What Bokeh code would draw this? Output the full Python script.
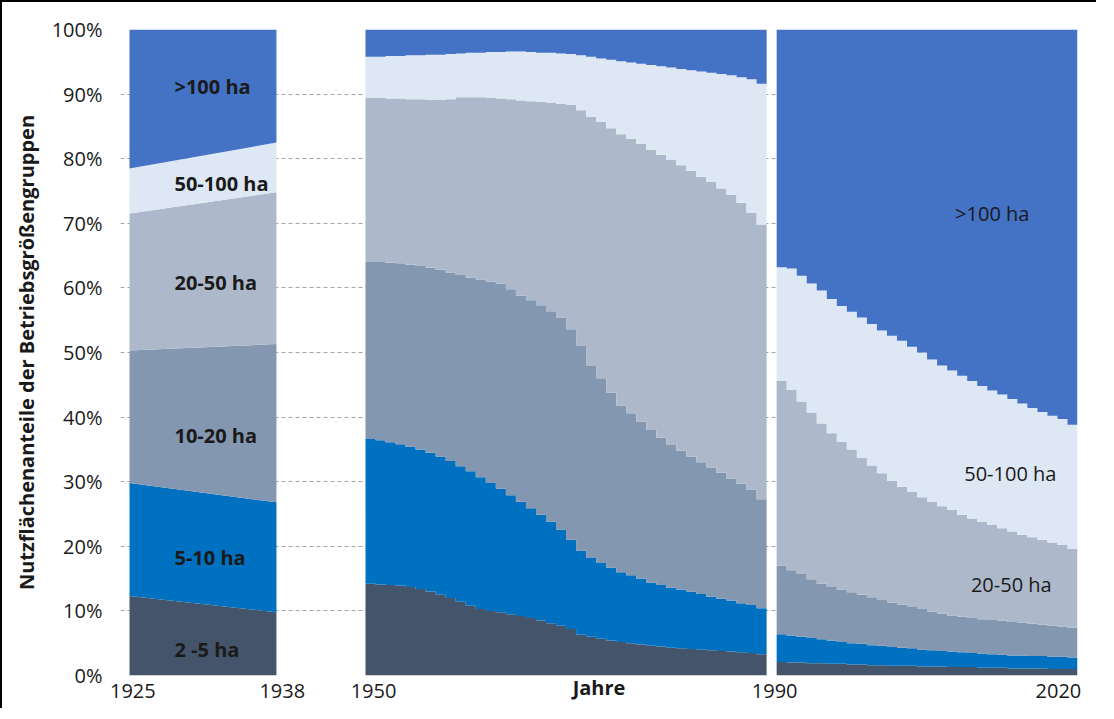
import numpy as np
from bokeh.plotting import figure
from bokeh.models import ColumnDataSource, Range1d, FixedTicker, PrintfTickFormatter
from bokeh.core.properties import value
from bokeh.embed import file_html
from bokeh.resources import INLINE

# ---------------- data (shares in % of agricultural area) ----------------
CLASSES = ["2 -5 ha", "5-10 ha", "10-20 ha", "20-50 ha", "50-100 ha", ">100 ha"]
COLORS = ["#44546A", "#0070C0", "#8497B0", "#ADB9CA", "#DEE7F4", "#4472C4"]

# period 1: 1925 and 1938
years_1 = [1925, 1938]
p1_s2_5 = [12.3, 9.8]
p1_s5_10 = [17.5, 17.0]
p1_s10_20 = [20.5, 24.5]
p1_s20_50 = [21.2, 23.5]
p1_s50_100 = [7.0, 7.7]
p1_s100 = [21.5, 17.5]

# period 2: 1950-1989 (yearly)
years_2 = list(range(1950, 1990))
p2_s2_5 = [14.2, 14.1, 14.0, 13.9, 13.7, 13.4, 13.0, 12.5, 12.0, 11.4,
           10.8, 10.3, 10.0, 9.8, 9.5, 9.2, 8.9, 8.5, 8.1, 7.7,
           7.2, 6.3, 6.0, 5.7, 5.4, 5.2, 5.0, 4.8, 4.6, 4.5,
           4.3, 4.2, 4.1, 4.0, 3.9, 3.8, 3.7, 3.6, 3.5, 3.3]
p2_s5_10 = [22.4, 22.3, 22.1, 21.9, 21.7, 21.6, 21.5, 21.4, 21.2, 21.0,
            20.8, 20.4, 19.8, 19.1, 18.4, 17.7, 17.0, 16.4, 15.7, 14.9,
            13.8, 13.0, 12.2, 11.7, 11.3, 10.8, 10.5, 10.2, 9.8, 9.5,
            9.3, 9.1, 8.9, 8.6, 8.3, 8.1, 7.9, 7.6, 7.4, 7.1]
p2_s10_20 = [27.4, 27.6, 27.8, 28.0, 28.2, 28.4, 28.6, 28.9, 29.2, 29.6,
             30.0, 30.6, 31.2, 31.8, 31.9, 31.9, 32.2, 32.4, 32.6, 32.8,
             32.6, 31.7, 29.7, 28.6, 27.1, 25.8, 25.1, 24.3, 23.6, 22.8,
             22.1, 21.5, 20.9, 20.4, 20.0, 19.5, 18.9, 18.5, 17.9, 16.9]
p2_s20_50 = [25.4, 25.4, 25.4, 25.5, 25.6, 25.8, 26.0, 26.3, 26.8, 27.5,
             27.9, 28.2, 28.4, 28.6, 29.4, 30.2, 30.8, 31.5, 32.3, 33.1,
             34.7, 36.5, 38.6, 39.7, 40.9, 42.0, 42.5, 43.0, 43.4, 43.8,
             44.1, 44.2, 44.2, 44.2, 44.2, 44.0, 43.9, 43.5, 42.8, 42.5]
p2_s50_100 = [6.4, 6.4, 6.6, 6.6, 6.8, 6.8, 7.0, 7.0, 7.0, 6.8,
              6.9, 6.9, 7.1, 7.2, 7.4, 7.6, 7.6, 7.6, 7.7, 7.8,
              7.9, 8.5, 9.3, 9.8, 10.6, 11.3, 11.8, 12.4, 13.1, 13.7,
              14.3, 14.9, 15.6, 16.3, 16.9, 17.7, 18.5, 19.4, 20.7, 21.8]
p2_s100 = [4.2, 4.2, 4.1, 4.1, 4.0, 4.0, 3.9, 3.9, 3.8, 3.7,
           3.6, 3.6, 3.5, 3.5, 3.4, 3.4, 3.5, 3.6, 3.6, 3.7,
           3.8, 4.0, 4.2, 4.5, 4.7, 4.9, 5.1, 5.3, 5.5, 5.7,
           5.9, 6.1, 6.3, 6.5, 6.7, 6.9, 7.1, 7.4, 7.7, 8.4]

# period 3: 1991-2020 (yearly)
years_3 = list(range(1991, 2021))
p3_s2_5 = [2.1, 2.0, 2.0, 1.9, 1.9, 1.8, 1.8, 1.7, 1.7, 1.6,
           1.6, 1.5, 1.5, 1.5, 1.4, 1.4, 1.4, 1.3, 1.3, 1.3,
           1.2, 1.2, 1.2, 1.1, 1.1, 1.1, 1.1, 1.0, 1.0, 1.0]
p3_s5_10 = [4.3, 4.2, 4.0, 3.9, 3.7, 3.6, 3.4, 3.3, 3.2, 3.1,
            3.0, 2.9, 2.8, 2.7, 2.6, 2.5, 2.4, 2.4, 2.3, 2.2,
            2.2, 2.1, 2.0, 2.0, 2.0, 1.9, 1.9, 1.9, 1.9, 1.8]
p3_s10_20 = [10.6, 10.1, 9.7, 9.1, 8.6, 8.3, 8.1, 7.9, 7.6, 7.4,
             7.1, 6.9, 6.7, 6.4, 6.3, 6.0, 5.8, 5.6, 5.5, 5.4,
             5.3, 5.3, 5.3, 5.2, 5.1, 5.0, 4.9, 4.8, 4.7, 4.6]
p3_s20_50 = [28.6, 27.9, 26.7, 25.8, 24.8, 23.8, 22.9, 22.1, 21.2, 20.4,
             19.6, 18.8, 18.2, 17.8, 17.3, 17.0, 16.6, 16.3, 15.8, 15.4,
             15.1, 14.7, 14.3, 14.0, 13.6, 13.4, 13.1, 12.9, 12.6, 12.2]
p3_s50_100 = [17.6, 18.8, 19.5, 20.0, 20.6, 20.8, 21.0, 21.3, 21.7, 21.9,
              22.1, 22.5, 22.6, 22.5, 22.4, 22.0, 21.8, 21.6, 21.5, 21.3,
              21.0, 20.8, 20.7, 20.5, 20.3, 20.0, 19.8, 19.6, 19.5, 19.2]
p3_s100 = [36.8, 37.0, 38.1, 39.3, 40.4, 41.7, 42.8, 43.7, 44.6, 45.6,
           46.6, 47.4, 48.2, 49.1, 50.0, 51.1, 52.0, 52.8, 53.6, 54.4,
           55.2, 55.9, 56.5, 57.2, 57.9, 58.6, 59.2, 59.8, 60.3, 61.2]

TICK_LABELS = ["1925", "1938", "1950", "1990", "2020"]
Y_TICKS = list(range(0, 101, 10))
Y_TITLE = "Nutzflächenanteile der Betriebsgrößengruppen"
X_TITLE = "Jahre"
LABELS_LEFT = ["2 -5 ha", "5-10 ha", "10-20 ha", "20-50 ha", "50-100 ha", ">100 ha"]
LABELS_RIGHT = ["20-50 ha", "50-100 ha", ">100 ha"]

# ---------------- layout constants ----------------
X_START, X_END = 1925.07, 2020.5
P1_X0, P1_X1 = 1925.97, 1940.62          # compressed drawing span of 1925..1938
TICK_POS = [1926.3, 1941.2, 1950.3, 1990.3, 2018.6]
LEFT_LABEL_X = 1930.45
LEFT_LABEL_Y = [4.0, 18.3, 37.2, 60.8, 76.2, 91.2]
RIGHT_LABEL_X = [2013.9, 2013.8, 2012.0]
RIGHT_LABEL_Y = [14.1, 31.3, 71.5]
FONT = "Open Sans"
TXT = "#1a1a1a"

p = figure(width=1096, height=708, output_backend="svg", toolbar_location=None,
           x_range=Range1d(X_START, X_END), y_range=Range1d(0, 100),
           min_border_left=118, min_border_right=21, min_border_top=27, min_border_bottom=35)
p.styles = {"border-top": "2px solid black", "border-left": "2px solid black"}
p.outline_line_color = None
p.background_fill_color = "white"


def stack_bounds(series):
    arr = np.array(series, dtype=float)
    tops = np.cumsum(arr, axis=0)
    bottoms = tops - arr
    return bottoms, tops


# period 1 as continuous area between the two survey years
def p1x(y):
    return P1_X0 + (y - years_1[0]) * (P1_X1 - P1_X0) / (years_1[-1] - years_1[0])


b1, t1 = stack_bounds([p1_s2_5, p1_s5_10, p1_s10_20, p1_s20_50, p1_s50_100, p1_s100])
x1 = [p1x(y) for y in years_1]
for k, c in enumerate(COLORS):
    p.varea(x=x1, y1=b1[k], y2=t1[k], fill_color=c)

# yearly periods as step areas (one step per year)
for years, series in ((years_2, [p2_s2_5, p2_s5_10, p2_s10_20, p2_s20_50, p2_s50_100, p2_s100]),
                      (years_3, [p3_s2_5, p3_s5_10, p3_s10_20, p3_s20_50, p3_s50_100, p3_s100])):
    b, t = stack_bounds(series)
    edges = [y - 0.5 for y in years] + [years[-1] + 0.5]
    for k, c in enumerate(COLORS):
        src = ColumnDataSource(dict(x=edges, y1=list(b[k]) + [b[k][-1]], y2=list(t[k]) + [t[k][-1]]))
        p.varea_step(x="x", y1="y1", y2="y2", step_mode="after", fill_color=c, source=src)

# labels
p.text(x=[LEFT_LABEL_X] * len(LABELS_LEFT), y=LEFT_LABEL_Y, text=LABELS_LEFT,
       text_font=value(FONT), text_font_style="bold", text_font_size="20px",
       text_color=TXT, text_align="left", text_baseline="middle")
p.text(x=RIGHT_LABEL_X, y=RIGHT_LABEL_Y, text=LABELS_RIGHT,
       text_font=value(FONT), text_font_size="20px",
       text_color=TXT, text_align="center", text_baseline="middle")

# grid
p.xgrid.grid_line_color = None
p.ygrid.ticker = FixedTicker(ticks=Y_TICKS)
p.ygrid.grid_line_color = "#A6A6A6"
p.ygrid.grid_line_dash = "4 3"
p.ygrid.grid_line_width = 1

# axes
p.yaxis.ticker = FixedTicker(ticks=Y_TICKS)
p.yaxis.formatter = PrintfTickFormatter(format="%d%%")
p.yaxis.axis_label = Y_TITLE
p.yaxis.axis_label_text_font = FONT
p.yaxis.axis_label_text_font_style = "bold"
p.yaxis.axis_label_text_font_size = "20px"
p.yaxis.axis_label_text_color = TXT
p.yaxis.axis_label_standoff = 9
p.yaxis.major_label_standoff = 12

p.xaxis.ticker = FixedTicker(ticks=TICK_POS)
p.xaxis.major_label_overrides = {t: l for t, l in zip(TICK_POS, TICK_LABELS)}
p.xaxis.major_label_standoff = 2
p.xaxis.axis_label = X_TITLE
p.xaxis.axis_label_text_font = FONT
p.xaxis.axis_label_text_font_style = "bold"
p.xaxis.axis_label_text_font_size = "20px"
p.xaxis.axis_label_text_color = TXT
p.xaxis.axis_label_standoff = -27

for ax in (p.xaxis, p.yaxis):
    ax.axis_line_color = None
    ax.major_tick_line_color = None
    ax.minor_tick_line_color = None
    ax.major_label_text_font = FONT
    ax.major_label_text_font_size = "20px"
    ax.major_label_text_color = TXT

open("out.html", "w").write(file_html(p, INLINE))
